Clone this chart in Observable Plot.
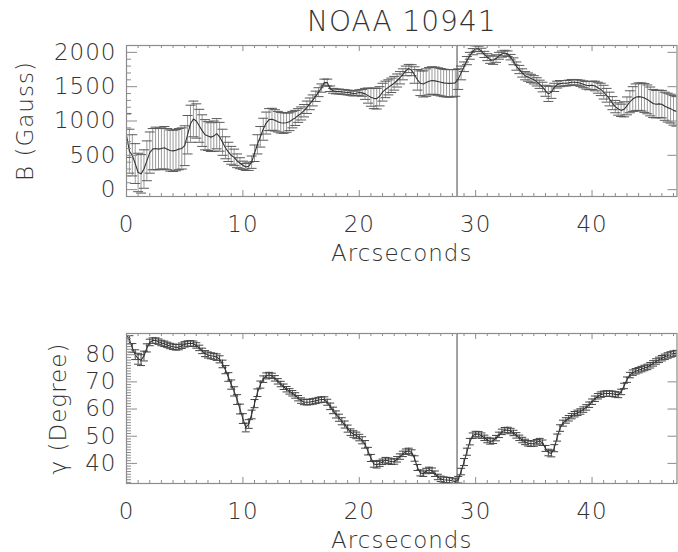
<!DOCTYPE html>
<html>
<head>
<meta charset="utf-8">
<script src="https://cdn.jsdelivr.net/npm/d3@7"></script>
<script src="https://cdn.jsdelivr.net/npm/@observablehq/plot@0.6"></script>
<style>
  body { margin: 0; background: #fff; }
  #chart { position: relative; width: 678px; height: 552px; overflow: hidden; background: #fff; }
  #chart svg { position: absolute; left: 0; }
  #chart svg text { font-family: "DejaVu Sans", sans-serif; font-weight: 200; letter-spacing: 1px; }
</style>
</head>
<body>
<div id="chart"></div>
<script>
// Slit cut across NOAA 10941: field strength and inclination, sampled every 0.25 arcsec.
const step = 0.25;

// Mean field strength B (Gauss), one row per arcsecond
const bMean = [
  790, 560, 500, 380,
  250, 230, 300, 420,
  540, 590, 600, 590,
  600, 610, 590, 570,
  565, 575, 590, 600,
  640, 800, 960, 1030,
  1000, 930, 860, 800,
  780, 765, 780, 815,
  770, 690, 610, 550,
  500, 470, 420, 385,
  355, 330, 340, 400,
  530, 660, 770, 880,
  970, 1020, 1025, 1010,
  990, 975, 970, 975,
  990, 1020, 1045, 1080,
  1110, 1150, 1200, 1250,
  1300, 1360, 1420, 1480,
  1560, 1560, 1470, 1440,
  1430, 1430, 1425, 1420,
  1415, 1410, 1400, 1405,
  1415, 1410, 1395, 1370,
  1345, 1330, 1325, 1360,
  1420, 1460, 1490, 1520,
  1550, 1590, 1630, 1680,
  1730, 1765, 1740, 1670,
  1600, 1550, 1540, 1560,
  1580, 1590, 1585, 1575,
  1565, 1555, 1550, 1548,
  1550, 1555, 1610, 1700,
  1790, 1880, 1950, 2010,
  2055, 2050, 2020, 1970,
  1930, 1895, 1885, 1910,
  1950, 1975, 1990, 1980,
  1930, 1870, 1800, 1750,
  1700, 1660, 1640, 1620,
  1600, 1570, 1535, 1495,
  1440, 1395, 1420, 1490,
  1530, 1545, 1550, 1550,
  1555, 1565, 1565, 1560,
  1550, 1535, 1520, 1515,
  1520, 1510, 1485, 1460,
  1420, 1375, 1320, 1260,
  1210, 1175, 1155, 1170,
  1220, 1280, 1320, 1345,
  1355, 1350, 1335, 1315,
  1285, 1255, 1245, 1250,
  1245, 1215, 1195, 1180,
  1155, 1140
];

// One-sigma error of B (Gauss)
const bErr = [
  320, 320, 300, 290,
  280, 280, 280, 290,
  300, 300, 310, 300,
  300, 310, 300, 300,
  300, 300, 300, 300,
  290, 280, 270, 260,
  250, 240, 230, 220,
  210, 210, 220, 220,
  210, 190, 160, 140,
  130, 120, 100, 80,
  60, 50, 60, 90,
  120, 140, 150, 160,
  160, 160, 160, 155,
  150, 150, 150, 140,
  130, 120, 110, 100,
  95, 90, 90, 85,
  80, 75, 65, 60,
  50, 50, 40, 35,
  35, 35, 35, 35,
  35, 35, 35, 35,
  40, 50, 80, 110,
  130, 150, 150, 140,
  130, 120, 110, 105,
  100, 95, 90, 80,
  70, 60, 80, 120,
  150, 180, 190, 200,
  200, 200, 200, 200,
  200, 200, 200, 200,
  200, 195, 150, 100,
  70, 60, 50, 45,
  40, 40, 40, 45,
  50, 55, 60, 55,
  50, 45, 40, 40,
  40, 50, 60, 60,
  60, 60, 60, 60,
  60, 60, 60, 70,
  80, 110, 90, 60,
  50, 45, 40, 40,
  40, 40, 40, 40,
  45, 50, 55, 60,
  60, 70, 80, 90,
  100, 100, 100, 95,
  90, 90, 90, 110,
  130, 160, 180, 195,
  200, 205, 210, 210,
  210, 205, 200, 200,
  200, 205, 210, 210,
  215, 215
];

// Field inclination gamma (degrees)
const gamma = [
  87.3, 85.5, 82.5, 80.0,
  78.5, 78.0, 79.5, 82.5,
  84.5, 85.2, 85.2, 84.8,
  84.3, 84.0, 83.6, 83.2,
  82.9, 82.7, 82.8, 83.3,
  83.8, 84.1, 84.2, 84.0,
  83.4, 82.5, 81.4, 80.4,
  79.9, 79.6, 79.4, 79.1,
  78.3, 76.6, 74.5, 71.8,
  69.0, 66.5, 63.5, 60.0,
  56.5, 53.2, 54.5, 58.0,
  62.0, 66.0, 69.0, 71.0,
  72.2, 72.5, 72.2, 71.3,
  70.2, 69.2, 68.2, 67.3,
  66.5, 65.8, 65.0, 64.0,
  63.1, 62.6, 62.5, 62.6,
  62.8, 63.0, 63.3, 63.5,
  63.5, 62.5, 61.0, 59.5,
  58.0, 56.8, 55.5, 54.3,
  52.8, 51.5, 50.8, 50.3,
  49.5, 48.5, 47.0, 44.5,
  42.0, 39.8, 39.5, 40.0,
  40.6, 41.2, 41.0, 40.6,
  40.7, 41.5, 42.5, 43.5,
  44.3, 44.6, 44.0, 41.8,
  38.5, 36.5, 36.2, 37.2,
  37.6, 37.3, 36.2, 35.0,
  34.3, 34.0, 33.9, 33.8,
  33.6, 33.3, 34.0, 37.0,
  40.5, 44.3, 48.0, 50.2,
  50.8, 50.7, 50.2, 49.4,
  48.6, 48.1, 48.3, 49.3,
  50.5, 51.6, 52.2, 52.3,
  51.9, 51.2, 50.3, 49.4,
  48.6, 47.9, 47.4, 47.2,
  47.3, 47.8, 48.2, 47.6,
  45.5, 44.0, 43.6, 45.6,
  49.5, 53.0, 54.8, 55.8,
  56.6, 57.4, 58.1, 58.6,
  59.1, 59.8, 60.6, 61.6,
  62.7, 63.8, 64.7, 65.3,
  65.6, 65.7, 65.7, 65.6,
  65.4, 65.2, 66.3, 68.5,
  70.8, 72.5, 73.4, 73.9,
  74.3, 74.7, 75.1, 75.5,
  76.1, 76.8, 77.5, 78.1,
  78.7, 79.2, 79.7, 80.1,
  80.4, 80.6
];

// One-sigma error of gamma (degrees)
const gammaErr = [
  1.5, 1.5, 1.6, 1.8,
  2.0, 2.0, 1.8, 1.5,
  1.2, 1.0, 1.0, 1.0,
  1.0, 1.0, 1.0, 1.0,
  1.0, 1.0, 1.0, 1.0,
  1.0, 1.0, 1.0, 1.0,
  1.0, 1.0, 1.0, 1.1,
  1.1, 1.1, 1.1, 1.2,
  1.3, 1.4, 1.5, 1.6,
  1.7, 1.7, 1.8, 1.8,
  1.8, 1.6, 1.6, 1.6,
  1.5, 1.4, 1.3, 1.2,
  1.1, 1.0, 1.0, 1.0,
  1.0, 1.0, 1.0, 1.0,
  1.0, 1.0, 1.0, 1.0,
  1.0, 1.0, 1.0, 1.0,
  1.0, 1.0, 1.0, 1.0,
  1.0, 1.1, 1.2, 1.2,
  1.3, 1.3, 1.3, 1.3,
  1.3, 1.2, 1.2, 1.2,
  1.2, 1.3, 1.4, 1.4,
  1.3, 1.2, 1.2, 1.1,
  1.0, 1.0, 1.0, 1.0,
  1.0, 1.0, 1.0, 1.0,
  1.0, 1.0, 1.0, 1.0,
  1.1, 1.1, 1.0, 1.0,
  1.0, 1.0, 1.0, 1.0,
  1.0, 1.0, 1.0, 1.0,
  1.0, 1.0, 1.2, 1.2,
  1.3, 1.3, 1.2, 1.0,
  1.0, 1.0, 1.0, 1.0,
  1.0, 1.0, 1.0, 1.0,
  1.0, 1.0, 1.0, 1.0,
  1.0, 1.0, 1.0, 1.0,
  1.0, 1.0, 1.0, 1.0,
  1.0, 1.0, 1.0, 1.0,
  1.1, 1.2, 1.2, 1.3,
  1.3, 1.2, 1.1, 1.0,
  1.0, 1.0, 1.0, 1.0,
  1.0, 1.0, 1.0, 1.0,
  1.0, 1.0, 1.0, 1.0,
  1.0, 1.0, 1.0, 1.0,
  1.0, 1.0, 1.0, 1.0,
  1.0, 1.0, 1.0, 1.0,
  1.0, 1.0, 1.0, 1.0,
  1.0, 1.0, 1.0, 1.0,
  1.0, 1.0, 1.0, 1.0,
  1.0, 1.0
];

// Position of the marked cut (arcsec)
const markerX = 28.4;

// Axis settings
const xDomain = [0, 47.3];
const xTicks = [0, 10, 20, 30, 40];
const bDomain = [-100, 2100];
const bTicks = [0, 500, 1000, 1500, 2000];
const gDomain = [32.6, 87.8];
const gTicks = [40, 50, 60, 70, 80];

const titleText = "NOAA 10941";
const xLabel = "Arcseconds";
const bLabel = "B (Gauss)";
const gLabel = "γ (Degree)";

const W = 678;
const textColor = "#333";
const axisColor = "#8c8c8c";
const labelSize = 23;

// Horizontal cap drawn at each end of an error bar
const cap = {
  draw(context, size) {
    const w = Math.sqrt(size / Math.PI);
    context.moveTo(-w, 0);
    context.lineTo(w, 0);
  }
};

function rows(values, errors) {
  return values.map((v, i) => ({x: i * step, v, lo: v - errors[i], hi: v + errors[i]}));
}

function panel({data, yDomain, yTicks, yMinor, yLabel, yLabelDx, height, marginTop, marginBottom,
                barColor, capColor, capR, lineColor, title}) {
  const marginLeft = 126, marginRight = 1.5;
  const fw = W - marginLeft - marginRight;
  const fh = height - marginTop - marginBottom;
  const xMinor = d3.range(1, 48).filter(d => d % 10 !== 0);
  const marks = [
    // error bars, caps and mean curve
    Plot.ruleX(data, {x: "x", y1: "lo", y2: "hi", stroke: barColor, strokeWidth: 1, clip: true}),
    Plot.dot(data, {x: "x", y: "lo", symbol: cap, r: capR, fill: "none", stroke: capColor, strokeWidth: 1, clip: true}),
    Plot.dot(data, {x: "x", y: "hi", symbol: cap, r: capR, fill: "none", stroke: capColor, strokeWidth: 1, clip: true}),
    Plot.line(data, {x: "x", y: "v", stroke: lineColor, strokeWidth: 1.1, clip: true}),
    Plot.ruleX([markerX], {x: d => d, stroke: "#444", strokeWidth: 1}),
    // inward ticks on all four sides
    Plot.tickX(xTicks, {x: d => d, insetTop: fh - 6, stroke: axisColor}),
    Plot.tickX(xTicks, {x: d => d, insetBottom: fh - 6, stroke: axisColor}),
    Plot.tickX(xMinor, {x: d => d, insetTop: fh - 3, stroke: axisColor}),
    Plot.tickX(xMinor, {x: d => d, insetBottom: fh - 3, stroke: axisColor}),
    Plot.tickY(yTicks, {y: d => d, insetRight: fw - 11, stroke: axisColor}),
    Plot.tickY(yTicks, {y: d => d, insetLeft: fw - 9, stroke: axisColor}),
    Plot.tickY(yMinor, {y: d => d, insetRight: fw - 5, stroke: axisColor}),
    Plot.frame({stroke: axisColor, strokeWidth: 1.2}),
    // tick labels
    Plot.text(xTicks, {x: d => d, text: d => String(d), frameAnchor: "bottom", dy: 28,
      lineAnchor: "middle", textAnchor: "middle", fontSize: labelSize, fill: textColor}),
    Plot.text(yTicks, {y: d => d, text: d => String(d), frameAnchor: "left", dx: -10,
      lineAnchor: "middle", textAnchor: "end", fontSize: labelSize, fill: textColor}),
    // axis titles
    Plot.text([xLabel], {text: d => d, frameAnchor: "bottom", dy: 57, lineAnchor: "middle",
      textAnchor: "middle", fontSize: labelSize, fill: textColor}),
    Plot.text([yLabel], {text: d => d, frameAnchor: "left", dx: yLabelDx, rotate: -90,
      lineAnchor: "middle", textAnchor: "middle", fontSize: labelSize, fill: textColor})
  ];
  if (title) {
    marks.push(Plot.text([title], {text: d => d, frameAnchor: "top", dy: -23, lineAnchor: "middle",
      textAnchor: "middle", fontSize: 28, fill: textColor}));
  }
  return Plot.plot({
    width: W, height, marginTop, marginBottom, marginLeft, marginRight,
    x: {domain: xDomain, axis: null},
    y: {domain: yDomain, axis: null},
    style: {background: "transparent", overflow: "visible"},
    marks
  });
}

const topPanel = panel({
  data: rows(bMean, bErr), yDomain: bDomain, yTicks: bTicks,
  yMinor: d3.range(-100, 2101, 100).filter(d => d % 500 !== 0),
  yLabel: bLabel, yLabelDx: -101, height: 276, marginTop: 45, marginBottom: 80,
  barColor: "#9a9a9a", capColor: "#5a5a5a", capR: 5, lineColor: "#333", title: titleText
});
const bottomPanel = panel({
  data: rows(gamma, gammaErr), yDomain: gDomain, yTicks: gTicks,
  yMinor: d3.range(33, 88, 1).filter(d => d % 10 !== 0),
  yLabel: gLabel, yLabelDx: -68, height: 276, marginTop: 57, marginBottom: 69,
  barColor: "#444", capColor: "#444", capR: 4, lineColor: "#333"
});
topPanel.style.top = "0px";
bottomPanel.style.top = "276px";
document.getElementById("chart").append(topPanel, bottomPanel);
</script>
</body>
</html>
